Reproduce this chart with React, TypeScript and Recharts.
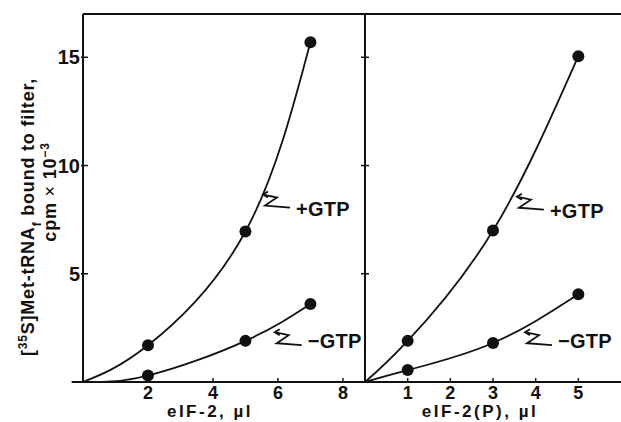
import React from "react";
import { LineChart, Line, XAxis, YAxis, ReferenceLine, ReferenceDot } from "recharts";

// ---- data ----
const leftDoses = [0, 2, 5, 7]; // eIF-2, µl
const leftPlusGTP = [0, 1.7, 6.95, 15.7];
const leftMinusGTP = [0, 0.3, 1.9, 3.6];

const rightDoses = [0, 1, 3, 5]; // eIF-2(P), µl
const rightPlusGTP = [0, 1.9, 7.0, 15.05];
const rightMinusGTP = [0, 0.55, 1.8, 4.05];

const leftXTicks = [2, 4, 6, 8];
const rightXTicks = [1, 2, 3, 4, 5];
const yTicks = [5, 10, 15];

const leftData = leftDoses.map((x, i) => ({ x, plus: leftPlusGTP[i], minus: leftMinusGTP[i] }));
const rightData = rightDoses.map((x, i) => ({ x, plus: rightPlusGTP[i], minus: rightMinusGTP[i] }));

const FF = '"Liberation Sans", Arial, Helvetica, sans-serif';
const INK = "#111";

const makeDot = (tag: string) => (props: any) => {
  const { cx, cy, payload, index } = props;
  if (payload.x === 0) return <g key={`${tag}-${index}`} />;
  return <circle key={`${tag}-${index}`} cx={cx} cy={cy} r={6} fill={INK} />;
};

const XTick = (props: any) => {
  const { x, y, payload } = props;
  return (
    <g>
      <line x1={x} x2={x} y1={y - 4} y2={y} stroke={INK} strokeWidth={1.5} />
      <text x={x} y={y + 16.5} textAnchor="middle" fontFamily={FF} fontWeight="bold" fontSize={18} fill={INK}>
        {payload.value}
      </text>
    </g>
  );
};

const YTickLabeled = (props: any) => {
  const { x, y, payload } = props;
  return (
    <g>
      <line x1={x - 2} x2={x + 5} y1={y} y2={y} stroke={INK} strokeWidth={1.5} />
      <text x={x - 3} y={y + 7} textAnchor="end" fontFamily={FF} fontWeight="bold" fontSize={20} fill={INK}>
        {payload.value}
      </text>
    </g>
  );
};

const YTickBare = (props: any) => {
  const { x, y } = props;
  return <line x1={x - 4} x2={x + 4} y1={y} y2={y} stroke={INK} strokeWidth={1.5} />;
};

const YTitle = () => (
  <g fontFamily={FF} fontWeight="bold" fill={INK}>
    <text transform="translate(34,217) rotate(-90)" textAnchor="middle" fontSize={18} letterSpacing={0.8}>
      [<tspan baselineShift="super" fontSize={12}>35</tspan>S]Met-tRNA
      <tspan baselineShift="sub" fontSize={12}>f</tspan> bound to filter,
    </text>
    <text transform="translate(56,192) rotate(-90)" textAnchor="middle" fontSize={18} letterSpacing={0.8}>
      cpm <tspan fontWeight="normal">×</tspan> 10<tspan baselineShift="super" fontSize={12}>−3</tspan>
    </text>
  </g>
);

const Annot = (props: any) => {
  const { cx, cy, text, dy } = props;
  return (
    <g>
      <path
        d={`M${cx + 5},${cy - 3} L${cx},${cy} L${cx + 5},${cy + 3} M${cx},${cy} L${cx + 14},${cy + 3} L${cx + 2},${cy + 11} L${cx + 27},${cy + 13}`}
        fill="none"
        stroke={INK}
        strokeWidth={1.8}
      />
      <text x={cx + 33} y={cy + dy} fontFamily={FF} fontWeight="bold" fontSize={20} letterSpacing={0.3} fill={INK}>
        {text}
      </text>
    </g>
  );
};

const XTitle = (label: string, cx: number) => () => (
  <text x={cx} y={417} textAnchor="middle" fontFamily={FF} fontWeight="bold" fontSize={17} letterSpacing={2.5} fill={INK}>
    {label}
  </text>
);

export default function App() {
  return (
    <div style={{ position: "absolute", left: 0, top: 0, width: 621, height: 422, background: "#fff" }}>
      <div style={{ position: "absolute", left: 0, top: 0 }}>
        <LineChart width={366} height={422} data={leftData} margin={{ top: 14, right: 1, left: 0, bottom: 0 }}>
          <XAxis
            dataKey="x"
            type="number"
            domain={[0, 8.68]}
            ticks={leftXTicks}
            tick={<XTick />}
            tickLine={false}
            tickSize={0}
            tickMargin={0}
            height={40}
            axisLine={{ stroke: INK, strokeWidth: 2 }}
            allowDataOverflow
            label={{ content: XTitle("eIF-2, µl", 210) }}
          />
          <YAxis
            type="number"
            domain={[0, 17]}
            ticks={yTicks}
            tick={<YTickLabeled />}
            tickLine={false}
            tickSize={0}
            tickMargin={0}
            width={83}
            axisLine={{ stroke: INK, strokeWidth: 2 }}
            allowDataOverflow
            label={{ content: YTitle }}
          />
          <ReferenceLine y={17} stroke={INK} strokeWidth={2} />
          <ReferenceLine
            segment={[{ x: -0.35, y: 0 }, { x: 0, y: 0 }]}
            stroke={INK}
            strokeWidth={2}
            ifOverflow="visible"
          />
          <Line dataKey="plus" type="natural" stroke={INK} strokeWidth={1.8} dot={makeDot("lp")} isAnimationActive={false} />
          <Line dataKey="minus" type="natural" stroke={INK} strokeWidth={1.8} dot={makeDot("lm")} isAnimationActive={false} />
          <ReferenceDot x={5.54} y={8.66} r={0} shape={(p: any) => <Annot cx={p.cx} cy={p.cy} text="+GTP" dy={21} />} />
          <ReferenceDot x={5.9} y={2.3} r={0} shape={(p: any) => <Annot cx={p.cx} cy={p.cy} text="−GTP" dy={16} />} />
        </LineChart>
      </div>
      <div style={{ position: "absolute", left: 355, top: 0 }}>
        <LineChart width={266} height={422} data={rightData} margin={{ top: 14, right: 0, left: 0, bottom: 0 }}>
          <XAxis
            dataKey="x"
            type="number"
            domain={[0, 6]}
            ticks={rightXTicks}
            tick={<XTick />}
            tickLine={false}
            tickSize={0}
            tickMargin={0}
            height={40}
            axisLine={{ stroke: INK, strokeWidth: 2 }}
            allowDataOverflow
            label={{ content: XTitle("eIF-2(P), µl", 480 - 355) }}
          />
          <YAxis
            type="number"
            domain={[0, 17]}
            ticks={yTicks}
            tick={<YTickBare />}
            tickLine={false}
            tickSize={0}
            tickMargin={0}
            width={10}
            axisLine={{ stroke: INK, strokeWidth: 2 }}
            allowDataOverflow
          />
          <ReferenceLine y={17} stroke={INK} strokeWidth={2} />
          <Line dataKey="plus" type="natural" stroke={INK} strokeWidth={1.8} dot={makeDot("rp")} isAnimationActive={false} />
          <Line dataKey="minus" type="natural" stroke={INK} strokeWidth={1.8} dot={makeDot("rm")} isAnimationActive={false} />
          <ReferenceDot x={3.56} y={8.56} r={0} shape={(p: any) => <Annot cx={p.cx} cy={p.cy} text="+GTP" dy={21} />} />
          <ReferenceDot x={3.75} y={2.3} r={0} shape={(p: any) => <Annot cx={p.cx} cy={p.cy} text="−GTP" dy={16} />} />
        </LineChart>
      </div>
    </div>
  );
}
